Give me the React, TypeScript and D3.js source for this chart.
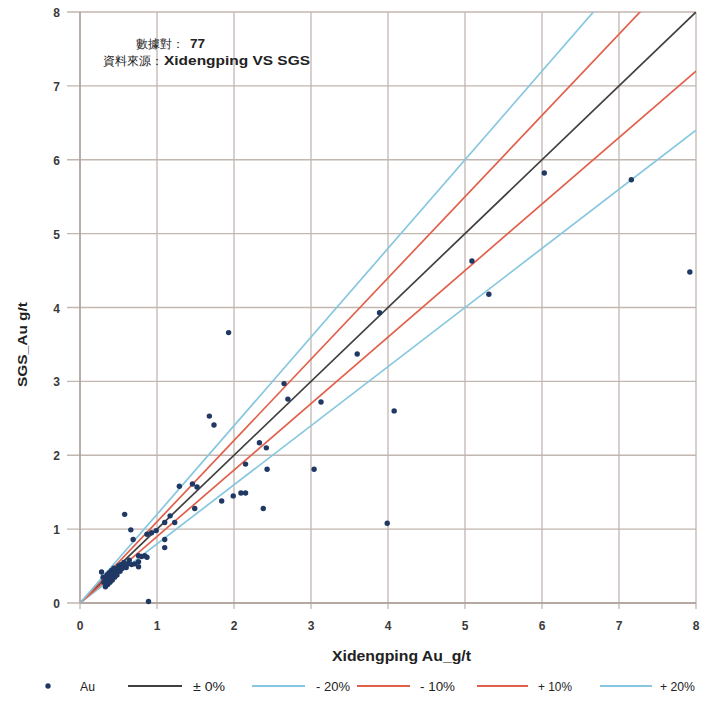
import React from "react";
import * as d3 from "d3";

const xVals = [7.92, 7.16, 6.03, 5.31, 5.09, 4.08, 3.99, 3.89, 3.6, 3.13, 3.04, 2.7, 2.65, 2.43, 2.42, 2.38, 2.33, 2.15, 2.15, 2.09, 1.99, 1.93, 1.84, 1.74, 1.68, 1.52, 1.49, 1.46, 1.29, 1.23, 1.17, 1.1, 1.1, 1.1, 0.99, 0.93, 0.89, 0.87, 0.69, 0.66, 0.58, 0.87, 0.84, 0.8, 0.76, 0.76, 0.71, 0.76,
  0.28, 0.3, 0.31, 0.33, 0.34, 0.35, 0.36, 0.37, 0.38, 0.39, 0.4, 0.41, 0.42, 0.43, 0.44, 0.45, 0.46, 0.48, 0.49, 0.5, 0.52, 0.53, 0.55, 0.57, 0.58, 0.6, 0.62, 0.64, 0.67];
const yVals = [4.48, 5.73, 5.82, 4.18, 4.63, 2.6, 1.08, 3.93, 3.37, 2.72, 1.81, 2.76, 2.97, 1.81, 2.1, 1.28, 2.17, 1.88, 1.49, 1.49, 1.45, 3.66, 1.38, 2.41, 2.53, 1.57, 1.28, 1.61, 1.58, 1.09, 1.18, 1.09, 0.86, 0.75, 0.98, 0.95, 0.02, 0.93, 0.86, 0.99, 1.2, 0.62, 0.64, 0.63, 0.64, 0.56, 0.53, 0.49,
  0.42, 0.35, 0.28, 0.22, 0.3, 0.38, 0.25, 0.33, 0.41, 0.28, 0.36, 0.44, 0.31, 0.39, 0.47, 0.35, 0.42, 0.38, 0.46, 0.5, 0.43, 0.52, 0.47, 0.55, 0.5, 0.48, 0.53, 0.58, 0.52];

const ticks = [0, 1, 2, 3, 4, 5, 6, 7, 8];
const lineFactors = [1.0, 0.8, 0.9, 1.1, 1.2];
const lineLabels = ["± 0%", "- 20%", "- 10%", "+ 10%", "+ 20%"];
const lineColors = ["#404040", "#86c7df", "#e2604b", "#e2604b", "#86c7df"];
const pointCount = 77;
const sourceText = "Xidengping VS SGS";
const xTitle = "Xidengping Au_g/t";
const yTitle = "SGS_Au g/t";

export default function App() {
  const W = 710, H = 701;
  const left = 80, right = 696, top = 12, bottom = 603;
  const x = d3.scaleLinear().domain([0, 8]).range([left, right]);
  const y = d3.scaleLinear().domain([0, 8]).range([bottom, top]);
  const font = "'Liberation Sans', Arial, sans-serif";
  const grid = "#c2b6b0";

  const legendItems = [
    { lx1: 128, lx2: 182, tx: 193, tw: 32 },
    { lx1: 252, lx2: 305, tx: 316, tw: 34 },
    { lx1: 357, lx2: 410, tx: 420, tw: 35 },
    { lx1: 477, lx2: 528, tx: 538, tw: 34 },
    { lx1: 600, lx2: 652, tx: 660, tw: 35 },
  ];
  const ly = 691;

  return (
    <svg width={W} height={H} style={{ position: "absolute", left: 0, top: 0, background: "#fff" }} fontFamily={font}>
      <defs>
        <clipPath id="plot">
          <rect x={left} y={top} width={right - left} height={bottom - top} />
        </clipPath>
      </defs>
      <rect x={0} y={0} width={W} height={H} fill="#fff" />
      {ticks.map((t) => (
        <g key={"g" + t}>
          <line x1={x(t)} x2={x(t)} y1={top} y2={bottom + 6} stroke={grid} strokeWidth={1.3} />
          <line x1={left - 13} x2={right} y1={y(t)} y2={y(t)} stroke={grid} strokeWidth={1.3} />
          <text x={x(t)} y={bottom + 27} textAnchor="middle" fontSize={12} fontWeight="bold" fill="#3a3a3a">{t}</text>
          <text x={60} y={y(t) + 5} textAnchor="end" fontSize={12} fontWeight="bold" fill="#3a3a3a">{t}</text>
        </g>
      ))}
      <line x1={left} x2={left} y1={top} y2={bottom} stroke="#ac9e98" strokeWidth={1.4} />
      <line x1={left} x2={right} y1={bottom} y2={bottom} stroke="#ac9e98" strokeWidth={1.4} />
      <g clipPath="url(#plot)">
        {lineFactors.map((f, i) => (
          <line key={"l" + i} x1={x(0)} y1={y(0)} x2={x(8)} y2={y(8 * f)} stroke={lineColors[i]} strokeWidth={1.7} />
        ))}
      </g>
      {xVals.map((v, i) => (
        <circle key={"p" + i} cx={x(v)} cy={y(yVals[i])} r={2.7} fill="#1f3864" />
      ))}
      <text x={136} y={48} fontSize={12} fill="#222">數據對：</text>
      <text x={190} y={48} fontSize={13} fontWeight="bold" fill="#222" textLength={15} lengthAdjust="spacingAndGlyphs">{pointCount}</text>
      <text x={103} y={65} fontSize={12} fill="#222">資料來源：</text>
      <text x={164} y={65} fontSize={13} fontWeight="bold" fill="#222" textLength={146} lengthAdjust="spacingAndGlyphs">{sourceText}</text>
      <text x={332} y={661} fontSize={14} fontWeight="bold" fill="#222" textLength={139} lengthAdjust="spacingAndGlyphs">{xTitle}</text>
      <text transform={`translate(27,387) rotate(-90)`} fontSize={13} fontWeight="bold" fill="#222" textLength={85} lengthAdjust="spacingAndGlyphs">{yTitle}</text>
      <circle cx={48} cy={ly - 5} r={2.7} fill="#1f3864" />
      <text x={80} y={ly} fontSize={13} fill="#222" textLength={15} lengthAdjust="spacingAndGlyphs">Au</text>
      {legendItems.map((it, i) => (
        <g key={"lg" + i}>
          <line x1={it.lx1} x2={it.lx2} y1={ly - 5} y2={ly - 5} stroke={lineColors[i]} strokeWidth={1.9} />
          <text x={it.tx} y={ly} fontSize={13} fill="#222" textLength={it.tw} lengthAdjust="spacingAndGlyphs">{lineLabels[i]}</text>
        </g>
      ))}
    </svg>
  );
}
